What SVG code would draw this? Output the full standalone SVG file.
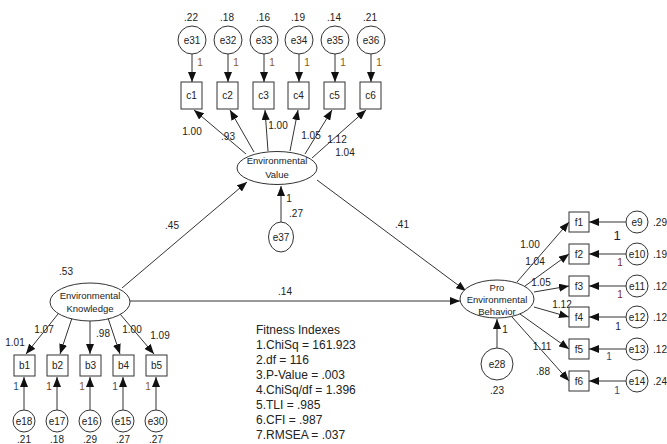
<svg xmlns="http://www.w3.org/2000/svg" width="667" height="444" viewBox="0 0 667 444">
<defs>
<marker id="ah" viewBox="0 0 10 8" refX="10" refY="4" markerWidth="10" markerHeight="8" orient="auto" markerUnits="userSpaceOnUse"><path d="M0,0 L10,4 L0,8 z" fill="#111"/></marker>
<style>
text{font-family:"Liberation Sans",Arial,sans-serif;font-size:10px;fill:#222;text-anchor:middle}
.n{fill:#fff;stroke:#333;stroke-width:1}
.c line{stroke:#333;stroke-width:1;marker-end:url(#ah)}
.lt{font-size:9.5px}
.fit{text-anchor:start;font-size:12px;fill:#222}
.r{fill:#7a1f1f}
.b{fill:#1f4f7a}
.o{fill:#8a5a1a}
.k{fill:#1a2040}
</style>
</defs>
<rect width="667" height="444" fill="#fff"/>

<g id="connectors" class="c">
<line x1="192" y1="54" x2="192" y2="82"/>
<line x1="228" y1="54" x2="228" y2="82"/>
<line x1="264" y1="54" x2="264" y2="82"/>
<line x1="299" y1="54" x2="299" y2="82"/>
<line x1="335" y1="54" x2="335" y2="82"/>
<line x1="371" y1="54" x2="371" y2="82"/>
<line x1="246" y1="154" x2="194" y2="110"/>
<line x1="254" y1="152" x2="230" y2="110"/>
<line x1="268" y1="151" x2="265" y2="110"/>
<line x1="290" y1="151" x2="298" y2="110"/>
<line x1="305" y1="154" x2="332" y2="110"/>
<line x1="312" y1="158" x2="366" y2="110"/>
<line x1="281" y1="222" x2="281" y2="186"/>
<line x1="122" y1="288" x2="247" y2="182"/>
<line x1="317" y1="180" x2="466" y2="291"/>
<line x1="130" y1="301" x2="460" y2="301"/>
<line x1="58" y1="314" x2="26" y2="354"/>
<line x1="72" y1="318" x2="60" y2="354"/>
<line x1="90" y1="321" x2="90" y2="354"/>
<line x1="108" y1="318" x2="120" y2="354"/>
<line x1="120" y1="314" x2="154" y2="354"/>
<line x1="24" y1="410" x2="24" y2="377"/>
<line x1="57" y1="410" x2="57" y2="377"/>
<line x1="90" y1="410" x2="90" y2="377"/>
<line x1="123" y1="410" x2="123" y2="377"/>
<line x1="156" y1="410" x2="156" y2="377"/>
<line x1="517" y1="282" x2="569" y2="222"/>
<line x1="525" y1="286" x2="569" y2="254"/>
<line x1="534" y1="292" x2="569" y2="286"/>
<line x1="534" y1="307" x2="569" y2="317"/>
<line x1="520" y1="314" x2="569" y2="349"/>
<line x1="512" y1="317" x2="569" y2="381"/>
<line x1="497" y1="348" x2="497" y2="319"/>
<line x1="626" y1="222" x2="589" y2="222"/>
<line x1="626" y1="254" x2="589" y2="254"/>
<line x1="626" y1="286" x2="589" y2="286"/>
<line x1="626" y1="317" x2="589" y2="317"/>
<line x1="626" y1="349" x2="589" y2="349"/>
<line x1="626" y1="381" x2="589" y2="381"/>
</g>

<g id="e31"><circle class="n" cx="192" cy="40" r="14"/><text x="192" y="44">e31</text><text x="191" y="21">.22</text><text class="o" x="200" y="66">1</text></g>
<g id="e32"><circle class="n" cx="228" cy="40" r="14"/><text x="228" y="44">e32</text><text x="227" y="21">.18</text><text class="o" x="236" y="66">1</text></g>
<g id="e33"><circle class="n" cx="264" cy="40" r="14"/><text x="264" y="44">e33</text><text x="263" y="21">.16</text><text class="o" x="272" y="66">1</text></g>
<g id="e34"><circle class="n" cx="299" cy="40" r="14"/><text x="299" y="44">e34</text><text x="298" y="21">.19</text><text class="o" x="307" y="66">1</text></g>
<g id="e35"><circle class="n" cx="335" cy="40" r="14"/><text x="335" y="44">e35</text><text x="334" y="21">.14</text><text class="o" x="343" y="66">1</text></g>
<g id="e36"><circle class="n" cx="371" cy="40" r="14"/><text x="371" y="44">e36</text><text x="370" y="21">.21</text><text class="o" x="379" y="66">1</text></g>

<g id="c1"><rect class="n" x="181" y="82" width="21" height="27"/><text x="191.5" y="99">c1</text></g>
<g id="c2"><rect class="n" x="217" y="82" width="21" height="27"/><text x="227.5" y="99">c2</text></g>
<g id="c3"><rect class="n" x="253" y="82" width="21" height="27"/><text x="263.5" y="99">c3</text></g>
<g id="c4"><rect class="n" x="288" y="82" width="21" height="27"/><text x="298.5" y="99">c4</text></g>
<g id="c5"><rect class="n" x="324" y="82" width="21" height="27"/><text x="334.5" y="99">c5</text></g>
<g id="c6"><rect class="n" x="360" y="82" width="21" height="27"/><text x="370.5" y="99">c6</text></g>

<g id="ev-labels">
<text x="192" y="135">1.00</text>
<text x="228" y="140">.93</text>
<text x="278" y="129">1.00</text>
<text x="311" y="139">1.05</text>
<text x="337" y="143">1.12</text>
<text x="345" y="156">1.04</text>
</g>

<g id="EnvironmentalValue"><ellipse class="n" cx="277" cy="168" rx="40" ry="16.5"/><text class="lt" x="277" y="164">Environmental</text><text class="lt" x="277" y="178">Value</text></g>

<g id="e37"><ellipse class="n" cx="281" cy="237" rx="12.5" ry="15"/><text x="281" y="241">e37</text><text x="289" y="202">1</text><text x="296" y="217">.27</text></g>

<g id="path-labels">
<text x="172" y="229">.45</text>
<text x="402" y="228">.41</text>
<text x="285" y="295">.14</text>
</g>

<g id="EnvironmentalKnowledge"><ellipse class="n" cx="90" cy="302" rx="40" ry="19"/><text class="lt" x="90" y="299">Environmental</text><text class="lt" x="90" y="312">Knowledge</text><text x="66" y="275">.53</text></g>

<g id="ek-labels">
<text x="15" y="346">1.01</text>
<text x="44" y="333">1.07</text>
<text x="103" y="337">.98</text>
<text x="132" y="333">1.00</text>
<text x="160" y="339">1.09</text>
</g>

<g id="b1"><rect class="n" x="14" y="355" width="21" height="21"/><text x="24.5" y="369">b1</text></g>
<g id="b2"><rect class="n" x="47" y="355" width="21" height="21"/><text x="57.5" y="369">b2</text></g>
<g id="b3"><rect class="n" x="80" y="355" width="21" height="21"/><text x="90.5" y="369">b3</text></g>
<g id="b4"><rect class="n" x="113" y="355" width="21" height="21"/><text x="123.5" y="369">b4</text></g>
<g id="b5"><rect class="n" x="146" y="355" width="21" height="21"/><text x="156.5" y="369">b5</text></g>

<g id="e18"><circle class="n" cx="24" cy="421" r="11"/><text x="24" y="425">e18</text><text class="b" x="16" y="390">1</text><text x="24" y="443">.21</text></g>
<g id="e17"><circle class="n" cx="57" cy="421" r="11"/><text x="57" y="425">e17</text><text class="r" x="49" y="390">1</text><text x="57" y="443">.18</text></g>
<g id="e16"><circle class="n" cx="90" cy="421" r="11"/><text x="90" y="425">e16</text><text class="o" x="82" y="390">1</text><text x="90" y="443">.29</text></g>
<g id="e15"><circle class="n" cx="123" cy="421" r="11"/><text x="123" y="425">e15</text><text class="b" x="115" y="390">1</text><text x="123" y="443">.27</text></g>
<g id="e30"><circle class="n" cx="156" cy="421" r="11"/><text x="156" y="425">e30</text><text class="o" x="148" y="390">1</text><text x="156" y="443">.27</text></g>

<g id="ProEnvironmentalBehavior"><ellipse class="n" cx="497" cy="299" rx="37" ry="19"/><text class="lt" x="497" y="291">Pro</text><text class="lt" x="497" y="303">Environmental</text><text class="lt" x="497" y="315">Behavior</text></g>

<g id="peb-labels">
<text x="530" y="248">1.00</text>
<text x="535" y="265">1.04</text>
<text x="541" y="286">1.05</text>
<text x="562" y="308">1.12</text>
<text x="542" y="350">1.11</text>
<text x="543" y="375">.88</text>
</g>

<g id="f1"><rect class="n" x="569" y="212" width="20" height="20"/><text x="579" y="226">f1</text></g>
<g id="f2"><rect class="n" x="569" y="244" width="20" height="20"/><text x="579" y="258">f2</text></g>
<g id="f3"><rect class="n" x="569" y="276" width="20" height="20"/><text x="579" y="290">f3</text></g>
<g id="f4"><rect class="n" x="569" y="307" width="20" height="20"/><text x="579" y="321">f4</text></g>
<g id="f5"><rect class="n" x="569" y="339" width="20" height="20"/><text x="579" y="353">f5</text></g>
<g id="f6"><rect class="n" x="569" y="371" width="20" height="20"/><text x="579" y="385">f6</text></g>

<g id="e9"><circle class="n" cx="637" cy="222" r="11"/><text x="637" y="226">e9</text><text x="660" y="226">.29</text><text class="k" x="617" y="240" style="font-size:13px">1</text></g>
<g id="e10"><circle class="n" cx="637" cy="254" r="11"/><text x="637" y="258">e10</text><text x="660" y="258">.19</text><text class="r" x="620" y="266">1</text></g>
<g id="e11"><circle class="n" cx="637" cy="286" r="11"/><text x="637" y="290">e11</text><text x="660" y="290">.12</text><text class="r" x="620" y="298">1</text></g>
<g id="e12"><circle class="n" cx="637" cy="317" r="11"/><text x="637" y="321">e12</text><text x="660" y="321">.12</text><text class="k" x="618" y="330">1</text></g>
<g id="e13"><circle class="n" cx="637" cy="349" r="11"/><text x="637" y="353">e13</text><text x="660" y="353">.12</text><text class="b" x="609" y="360">1</text></g>
<g id="e14"><circle class="n" cx="637" cy="381" r="11"/><text x="637" y="385">e14</text><text x="660" y="385">.24</text><text class="b" x="617" y="394">1</text></g>

<g id="e28"><circle class="n" cx="497" cy="364" r="16"/><text x="497" y="368">e28</text><text x="497" y="394">.23</text><text x="505" y="333">1</text></g>

<g id="fitness">
<text class="fit" x="256" y="334">Fitness Indexes</text>
<text class="fit" x="256" y="349">1.ChiSq = 161.923</text>
<text class="fit" x="256" y="364">2.df = 116</text>
<text class="fit" x="256" y="379">3.P-Value = .003</text>
<text class="fit" x="256" y="394">4.ChiSq/df = 1.396</text>
<text class="fit" x="256" y="409">5.TLI = .985</text>
<text class="fit" x="256" y="424">6.CFI = .987</text>
<text class="fit" x="256" y="439">7.RMSEA = .037</text>
</g>
</svg>
